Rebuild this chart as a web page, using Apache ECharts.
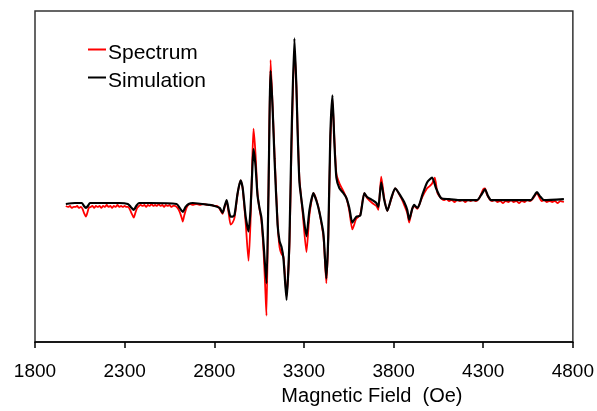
<!DOCTYPE html>
<html><head><meta charset="utf-8">
<script src="https://cdn.jsdelivr.net/npm/echarts@6/dist/echarts.min.js"></script>
<style>html,body{margin:0;padding:0;background:#fff}#c{width:597px;height:411px}</style>
</head><body><div id="c"></div>
<script>
const xTicks = [1800, 2300, 2800, 3300, 3800, 4300, 4800];
const seriesNames = ['Spectrum', 'Simulation'];
const xTitle = 'Magnetic Field  (Oe)';

const spectrumField = [1972,1985,1995,2005,2015,2025,2035,2045,2055,2065,2073,2084,2092,2100,2110,2120,2130,2140,2150,2160,2170,2180,2190,2200,2210,2220,2230,2240,2250,2260,2270,2280,2290,2300,2310,2320,2330,2340,2351,2360,2370,2380,2390,2400,2410,2420,2430,2440,2450,2460,2470,2480,2490,2500,2510,2520,2530,2540,2550,2560,2570,2580,2595,2607,2618,2624,2632,2645,2655,2665,2680,2700,2720,2740,2760,2780,2800,2815,2830,2846,2858,2869,2880,2891,2902,2913,2930,2947,2958,2975,2991,3002,3013,3019,3030,3041,3052,3063,3075,3085,3091,3102,3114,3125,3136,3153,3164,3175,3186,3203,3219,3230,3247,3258,3264,3275,3292,3314,3331,3353,3370,3386,3409,3425,3436,3447,3459,3470,3481,3498,3520,3537,3553,3570,3592,3614,3637,3653,3681,3704,3715,3731,3748,3765,3787,3809,3843,3859,3876,3887,3904,3915,3932,3943,3960,3987,4000,4015,4030,4045,4065,4080,4095,4110,4125,4140,4155,4170,4185,4200,4215,4230,4245,4260,4275,4288,4300,4310,4320,4335,4350,4365,4380,4395,4410,4425,4440,4455,4470,4485,4500,4515,4530,4545,4560,4575,4590,4600,4612,4625,4640,4655,4670,4685,4700,4715,4730,4750];
const spectrumValue = [-3,-4,-3,-5,-4,-4,-3,-5,-4,-6,-10,-14,-10,-5,-4,-3,-5,-3,-4,-3,-5,-3,-4,-2,-4,-3,-5,-3,-4,-2,-4,-3,-4,-3,-4,-4,-7,-11,-15,-10,-5,-3,-2,-3,-2,-4,-2,-3,-1,-3,-2,-3,-1,-3,-2,-4,-2,-3,-2,-4,-3,-3,-5,-9,-15,-19,-13,-5,-2,-1,-2,-1,-2,-1,-2,-2,-3,-3,-6,-11,-4,2,-10,-22,-20,-15,9,23,15,-20,-59,-20,50,76,50,10,-6,-18,-50,-90,-115,10,146,100,50,-20,-45,-52,-55,-95,-45,50,156,120,80,25,-8,-50,-12,10,3,-9,-35,-82,-35,60,105,65,30,20,12,5,-8,-27,-16,-12,10,5,0,-3,-7,27,5,-8,4,15,5,-2,-10,-20,-6,-3,-6,-2,6,15,17,20,26,10,5,3,4,2,3,1,3,2,3,1,3,2,3,2,4,9,14,15,9,4,2,3,1,2,0,2,1,3,1,2,0,2,1,3,2,4,8,10,6,2,3,1,2,1,2,0,2,1];

const simulationField = [1972,2023,2062,2073,2084,2095,2106,2150,2270,2318,2334,2351,2365,2380,2440,2590,2607,2624,2640,2657,2680,2774,2802,2830,2846,2858,2869,2880,2891,2902,2913,2930,2947,2958,2975,2991,3002,3013,3019,3030,3041,3052,3063,3075,3091,3102,3114,3125,3136,3153,3164,3175,3186,3203,3219,3230,3247,3258,3264,3275,3292,3314,3331,3353,3370,3386,3409,3425,3436,3447,3459,3470,3481,3498,3520,3537,3553,3570,3592,3614,3637,3653,3681,3704,3715,3731,3748,3765,3787,3809,3843,3859,3876,3887,3904,3915,3932,3943,3960,3987,4015,4037,4065,4110,4165,4266,4288,4310,4327,4344,4566,4583,4600,4616,4639,4750];
const simulationValue = [-1,0,0,-3,-5,-3,0,0,0,-1,-4,-7,-3,0,0,-1,-5,-9,-4,-1,0,-2,-3,-5,-10,-3,3,-7,-14,-14,-12,10,23,16,-14,-29,-7,38,55,38,8,-5,-15,-42,-82,8,135,98,45,-22,-39,-45,-57,-99,-39,61,168,118,78,21,-5,-34,-7,10,2,-9,-32,-77,-32,68,110,61,26,15,10,5,-5,-20,-14,-13,10,6,3,0,-4,21,3,-8,5,15,6,1,-7,-17,-6,-2,-5,-2,8,21,26,15,5,4,3,3,8,14,7,3,3,7,11,7,3,4];

const zip = (a, b) => a.map((x, i) => [x, b[i]]);

const chart = echarts.init(document.getElementById('c'));
chart.setOption({
  animation: false,
  backgroundColor: '#fff',
  textStyle: { fontFamily: 'Liberation Sans, Arial, sans-serif' },
  grid: { left: 35, right: 23, top: 11, bottom: 61, show: true, borderColor: '#333', borderWidth: 1.5 },
  legend: {
    data: seriesNames, orient: 'vertical', left: 88, top: 43, itemGap: 7, padding: 0,
    itemWidth: 18, itemHeight: 10, symbolKeepAspect: false,
    icon: 'path://M0,0h18v2h-18z M0,10h18v0.01h-18z',
    textStyle: { fontSize: 21, color: '#000', padding: [0, 0, 0, -3], fontFamily: 'Liberation Sans, Arial, sans-serif' }
  },
  xAxis: {
    type: 'value', min: 1800, max: 4800, interval: 500,
    name: xTitle, nameLocation: 'middle', nameGap: 39,
    nameTextStyle: { fontSize: 20, color: '#000', padding: [0, 0, 0, 136] },
    axisLine: { onZero: false, lineStyle: { color: '#000', width: 1.5 } },
    axisTick: { inside: false, length: 6, lineStyle: { color: '#000', width: 1.5 } },
    axisLabel: { fontSize: 19, color: '#000', margin: 20, formatter: v => xTicks.includes(v) ? String(v) : '' },
    splitLine: { show: false }
  },
  yAxis: { type: 'value', min: -142, max: 196, show: false, splitLine: { show: false } },
  series: [
    { name: seriesNames[0], type: 'line', data: zip(spectrumField, spectrumValue), showSymbol: false, symbol: 'none',
      smooth: 0.2, itemStyle: { color: '#ff0000' }, lineStyle: { color: '#ff0000', width: 1.8 }, z: 2 },
    { name: seriesNames[1], type: 'line', data: zip(simulationField, simulationValue), showSymbol: false, symbol: 'none',
      smooth: 0.2, itemStyle: { color: '#000' }, lineStyle: { color: '#000', width: 2.2 }, z: 3 }
  ]
});
</script></body></html>
